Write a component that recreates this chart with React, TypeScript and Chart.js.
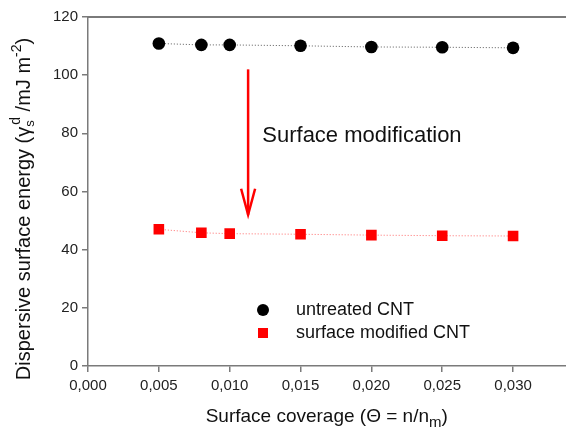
import React, { useEffect, useRef } from 'react';
import { Chart, registerables } from 'chart.js';

Chart.register(...registerables);

// ---- data ----
const coverage = [0.005, 0.008, 0.010, 0.015, 0.020, 0.025, 0.030];
const untreatedCNT = [110.9, 110.4, 110.4, 110.1, 109.7, 109.6, 109.4];
const modifiedCNT = [47.0, 45.8, 45.5, 45.3, 45.0, 44.8, 44.7];
const xTickValues = [0, 0.005, 0.010, 0.015, 0.020, 0.025, 0.030];
const yTickValues = [0, 20, 40, 60, 80, 100, 120];
const seriesNames = ['untreated CNT', 'surface modified CNT'];
const annotationLabel = 'Surface modification';
const arrowX = 0.0113;
const arrowYFrom = 102;
const arrowYTo = 52;
const annotationAt = { x: 0.0123, y: 79 };

const FONT = 'Arial, "Liberation Sans", Helvetica, sans-serif';
const AXIS_COLOR = '#7a7a7a';
const RED = '#ff0000';

const overlayPlugin = {
  id: 'overlay',
  afterDraw(chart: any) {
    const { ctx, chartArea, scales } = chart;
    const xs = scales.x;
    const ys = scales.y;
    ctx.save();

    // top frame line
    ctx.strokeStyle = AXIS_COLOR;
    ctx.lineWidth = 2;
    ctx.beginPath();
    ctx.moveTo(chartArea.left, chartArea.top);
    ctx.lineTo(chartArea.right + 10, chartArea.top);
    ctx.stroke();

    // arrow
    const ax = xs.getPixelForValue(arrowX);
    const ay1 = ys.getPixelForValue(arrowYFrom);
    const ay2 = ys.getPixelForValue(arrowYTo);
    ctx.strokeStyle = RED;
    ctx.lineWidth = 2.5;
    ctx.lineCap = 'butt';
    ctx.beginPath();
    ctx.moveTo(ax, ay1);
    ctx.lineTo(ax, ay2);
    ctx.stroke();
    ctx.lineJoin = 'miter';
    ctx.beginPath();
    ctx.moveTo(ax - 7, ay2 - 26);
    ctx.lineTo(ax, ay2);
    ctx.lineTo(ax + 7, ay2 - 26);
    ctx.stroke();

    // annotation text
    ctx.fillStyle = '#111';
    ctx.font = `22px ${FONT}`;
    ctx.textAlign = 'left';
    ctx.textBaseline = 'middle';
    ctx.fillText(annotationLabel, xs.getPixelForValue(annotationAt.x), ys.getPixelForValue(annotationAt.y));

    // legend
    const lx = chartArea.left + 175;
    const ly1 = chartArea.top + 293;
    const ly2 = chartArea.top + 316;
    ctx.fillStyle = '#000';
    ctx.beginPath();
    ctx.arc(lx, ly1, 6, 0, Math.PI * 2);
    ctx.fill();
    ctx.fillStyle = RED;
    ctx.fillRect(lx - 5, ly2 - 5, 10, 10);
    ctx.fillStyle = '#111';
    ctx.font = `18px ${FONT}`;
    ctx.fillText(seriesNames[0], lx + 33, ly1);
    ctx.fillText(seriesNames[1], lx + 33, ly2);

    // x axis title with subscript
    const bigX = `19px ${FONT}`;
    const xParts: [string, string, number][] = [
      ['Surface coverage (\u0398 = n/n', bigX, 0],
      ['m', `15px ${FONT}`, 5],
      [')', bigX, 0],
    ];
    let total = 0;
    xParts.forEach(([t, f]) => { ctx.font = f; total += ctx.measureText(t).width; });
    let cx = (chartArea.left + chartArea.right) / 2 - total / 2;
    const by = 422;
    ctx.textBaseline = 'alphabetic';
    ctx.fillStyle = '#111';
    xParts.forEach(([t, f, dy]) => {
      ctx.font = f;
      ctx.fillText(t, cx, by + dy);
      cx += ctx.measureText(t).width;
    });

    // y axis title with sub/superscripts (rotated)
    const bigY = `20px ${FONT}`;
    ctx.save();
    ctx.translate(30, 209);
    ctx.rotate(-Math.PI / 2);
    const yParts: { t: string; f: string; dy: number; adv?: number }[] = [
      { t: 'Dispersive surface energy (\u03b3', f: bigY, dy: 0 },
      { t: 's', f: `13px ${FONT}`, dy: 4, adv: 2 },
      { t: 'd', f: `14px ${FONT}`, dy: -10 },
      { t: ' /mJ m', f: bigY, dy: 0 },
      { t: '-2', f: `14px ${FONT}`, dy: -9 },
      { t: ')', f: bigY, dy: 0 },
    ];
    let yt = 0;
    yParts.forEach((p) => { ctx.font = p.f; yt += p.adv !== undefined ? p.adv : ctx.measureText(p.t).width; });
    let yx = -yt / 2;
    yParts.forEach((p) => {
      ctx.font = p.f;
      ctx.fillText(p.t, yx, p.dy);
      yx += p.adv !== undefined ? p.adv : ctx.measureText(p.t).width;
    });
    ctx.restore();

    ctx.restore();
  },
};

export default function App() {
  const ref = useRef<HTMLCanvasElement | null>(null);

  useEffect(() => {
    if (!ref.current) return;
    const chart = new Chart(ref.current, {
      type: 'scatter',
      data: {
        datasets: [
          {
            label: seriesNames[0],
            data: coverage.map((x, i) => ({ x, y: untreatedCNT[i] })),
            showLine: true,
            borderColor: 'rgba(50,50,50,0.8)',
            borderWidth: 1,
            borderDash: [1, 2],
            backgroundColor: '#000',
            pointBackgroundColor: '#000',
            pointBorderColor: '#000',
            pointStyle: 'circle',
            pointRadius: 6.3,
            pointBorderWidth: 0,
          },
          {
            label: seriesNames[1],
            data: coverage.map((x, i) => ({ x, y: modifiedCNT[i] })),
            showLine: true,
            borderColor: 'rgba(255,60,60,0.75)',
            borderWidth: 1,
            borderDash: [1, 2],
            backgroundColor: RED,
            pointBackgroundColor: RED,
            pointBorderColor: RED,
            pointStyle: 'rect',
            pointRadius: 7.5,
            pointBorderWidth: 0,
          },
        ],
      },
      options: {
        responsive: false,
        animation: false,
        devicePixelRatio: 1,
        layout: { padding: { left: 0, top: 17, right: 0, bottom: 0 } },
        plugins: { legend: { display: false }, tooltip: { enabled: false } },
        scales: {
          x: {
            type: 'linear',
            min: 0,
            max: 0.0337,
            afterBuildTicks: (s: any) => { s.ticks = xTickValues.map((v) => ({ value: v })); },
            afterFit: (s: any) => { s.height = 66; },
            ticks: {
              callback: (v: any) => Number(v).toFixed(3).replace('.', ','),
              font: { size: 15, family: FONT },
              color: '#222',
              padding: 5,
              maxRotation: 0,
            },
            grid: { drawOnChartArea: false, drawTicks: true, tickLength: 6, color: AXIS_COLOR, lineWidth: 1.5 },
            border: { display: true, color: AXIS_COLOR, width: 1.5 },
          },
          y: {
            type: 'linear',
            min: 0,
            max: 120,
            afterBuildTicks: (s: any) => { s.ticks = yTickValues.map((v) => ({ value: v })); },
            afterFit: (s: any) => { s.width = 88; },
            ticks: {
              font: { size: 15, family: FONT },
              color: '#222',
              padding: 4,
            },
            grid: { drawOnChartArea: false, drawTicks: true, tickLength: 6, color: AXIS_COLOR, lineWidth: 1.5 },
            border: { display: true, color: AXIS_COLOR, width: 1.5 },
          },
        },
      },
      plugins: [overlayPlugin],
    });
    return () => chart.destroy();
  }, []);

  return (
    <div style={{ position: 'absolute', left: 0, top: 0, width: 566, height: 432, overflow: 'hidden', background: '#fff' }}>
      <canvas ref={ref} width={573} height={432} style={{ display: 'block' }} />
    </div>
  );
}
